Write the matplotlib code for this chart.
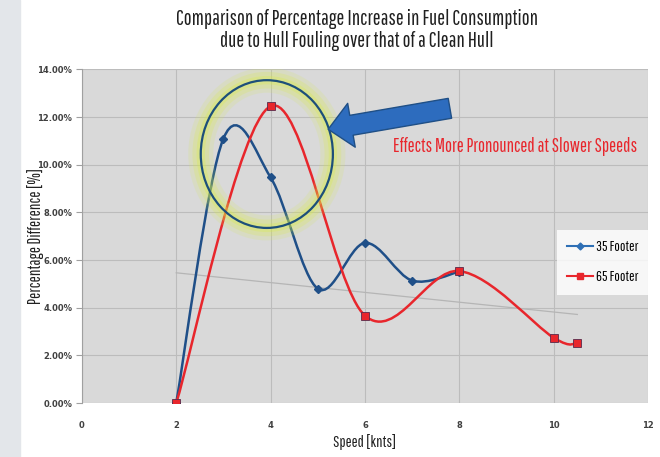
import matplotlib
import numpy as np

matplotlib.use('Agg')
import matplotlib.pyplot as plt
from matplotlib.path import Path
from matplotlib.patches import PathPatch, Ellipse, Rectangle, FancyArrowPatch
from matplotlib.lines import Line2D
from matplotlib.ticker import FuncFormatter

# data (percent)
speed_35 = [2, 3, 4, 5, 6, 7, 8]
pct_35 = [0.0, 11.1, 9.47, 4.8, 6.72, 5.14, 5.52]
speed_65 = [2, 4, 6, 8, 10, 10.5]
pct_65 = [0.0, 12.46, 3.67, 5.54, 2.74, 2.53]

x_ticks = [0, 2, 4, 6, 8, 10, 12]
y_ticks = [0, 2, 4, 6, 8, 10, 12, 14]

title = 'Comparison of Percentage Increase in Fuel Consumption\ndue to Hull Fouling over that of a Clean Hull'
note = 'Effects More Pronounced at Slower Speeds'

NARROW = ['Pathway Gothic One', 'Roboto Condensed', 'DejaVu Sans']

BLUE = '#1f4f88'
RED = '#e8262c'


def smooth_path(xs, ys):
    # excel-style smoothed line: cubic bezier between points
    p = np.column_stack([xs, ys]).astype(float)
    n = len(p)
    verts = [p[0]]
    codes = [Path.MOVETO]
    for i in range(n - 1):
        prev = p[i - 1] if i > 0 else p[i]
        nxt = p[i + 2] if i + 2 < n else p[i + 1]
        c1 = p[i] + (p[i + 1] - prev) / 6
        c2 = p[i + 1] - (nxt - p[i]) / 6
        verts += [c1, c2, p[i + 1]]
        codes += [Path.CURVE4] * 3
    return Path(verts, codes)


fig = plt.figure(figsize=(6.6, 4.57), dpi=100)
fig.patch.set_facecolor('white')
fig.patches.append(Rectangle((0, 0), 0.03, 1, transform=fig.transFigure,
                             color='#e3e6ea', zorder=0))

ax = fig.add_axes([0.124, 0.118, 0.858, 0.730])
ax.set_facecolor('#d9d9d9')
ax.set_xlim(0, 12)
ax.set_ylim(0, 14)
ax.set_xticks(x_ticks)
ax.set_yticks(y_ticks)
ax.yaxis.set_major_formatter(FuncFormatter(lambda v, p: '%.2f%%' % v))
ax.grid(True, color='#bcbcbc', linewidth=0.8)
ax.set_axisbelow(True)
for s in ['top', 'right', 'bottom']:
    ax.spines[s].set_visible(False)
ax.spines['left'].set_color('#a0a0a0')
ax.tick_params(axis='y', length=4, color='#a0a0a0', labelsize=6, labelcolor='#404040', pad=3)
ax.tick_params(axis='x', length=0, labelsize=6, labelcolor='#404040', pad=13)
for lab in ax.get_xticklabels() + ax.get_yticklabels():
    lab.set_fontweight('bold')

# linear trendline of the 65 footer data
k, b = np.polyfit(speed_65, pct_65, 1)
tx = np.array([speed_65[0], speed_65[-1]])
ax.plot(tx, k * tx + b, color='#b5b5b5', linewidth=0.9, zorder=2)

ax.add_patch(PathPatch(smooth_path(speed_35, pct_35), fill=False, edgecolor=BLUE, linewidth=1.8, zorder=3))
ax.plot(speed_35, pct_35, linestyle='none', marker='D', markersize=4, color=BLUE, zorder=4)
ax.add_patch(PathPatch(smooth_path(speed_65, pct_65), fill=False, edgecolor=RED, linewidth=1.8, zorder=5))
ax.plot(speed_65, pct_65, linestyle='none', marker='s', markersize=6, color=RED,
        markeredgecolor='#5a2a4a', markeredgewidth=0.6, zorder=6)

# highlight circle with glow
for lw, a in [(18, 0.15), (12, 0.22), (6, 0.3)]:
    ax.add_patch(Ellipse((3.92, 10.45), 2.8, 6.2, fill=False, edgecolor='#d8ec4a',
                         linewidth=lw, alpha=a, zorder=7))
ax.add_patch(Ellipse((3.92, 10.45), 2.8, 6.2, fill=False, edgecolor='#1d4f7a',
                     linewidth=1.6, zorder=8))

# arrow
ax.add_patch(FancyArrowPatch((7.8, 12.37), (5.22, 11.49),
                             arrowstyle='simple,head_length=1.7,head_width=3.2,tail_width=1.45',
                             mutation_scale=10, shrinkA=0, shrinkB=0,
                             facecolor='#2d6cbe', edgecolor='#1f4f86', linewidth=1.0, zorder=9))
ax.text(6.6, 10.75, note, color=RED, fontsize=13.5, family=NARROW, va='center', ha='left', zorder=9)

handles = [Line2D([], [], color='#2e6fb5', marker='D', markersize=3.5, linewidth=1.5),
           Line2D([], [], color=RED, marker='s', markersize=5, linewidth=1.5)]
leg = ax.legend(handles, ['35 Footer', '65 Footer'], loc='center left',
                bbox_to_anchor=(0.826, 0.422), frameon=True, fancybox=False,
                prop={'family': NARROW, 'size': 10.5}, handlelength=1.8, handletextpad=0.2,
                labelspacing=1.1, borderpad=0.7, edgecolor='white')
leg.get_frame().set_linewidth(0)

fig.text(0.541, 0.935, title, ha='center', va='center', fontsize=15, family=NARROW,
         color='#202020', linespacing=1.15)
fig.text(0.553, 0.033, 'Speed [knts]', ha='center', va='center', fontsize=11.5,
         family=NARROW, color='#202020')
fig.text(0.054, 0.483, 'Percentage Difference [%]', ha='center', va='center', fontsize=12,
         family=NARROW, color='#202020', rotation=90)

fig.savefig('out.png', dpi=100)
